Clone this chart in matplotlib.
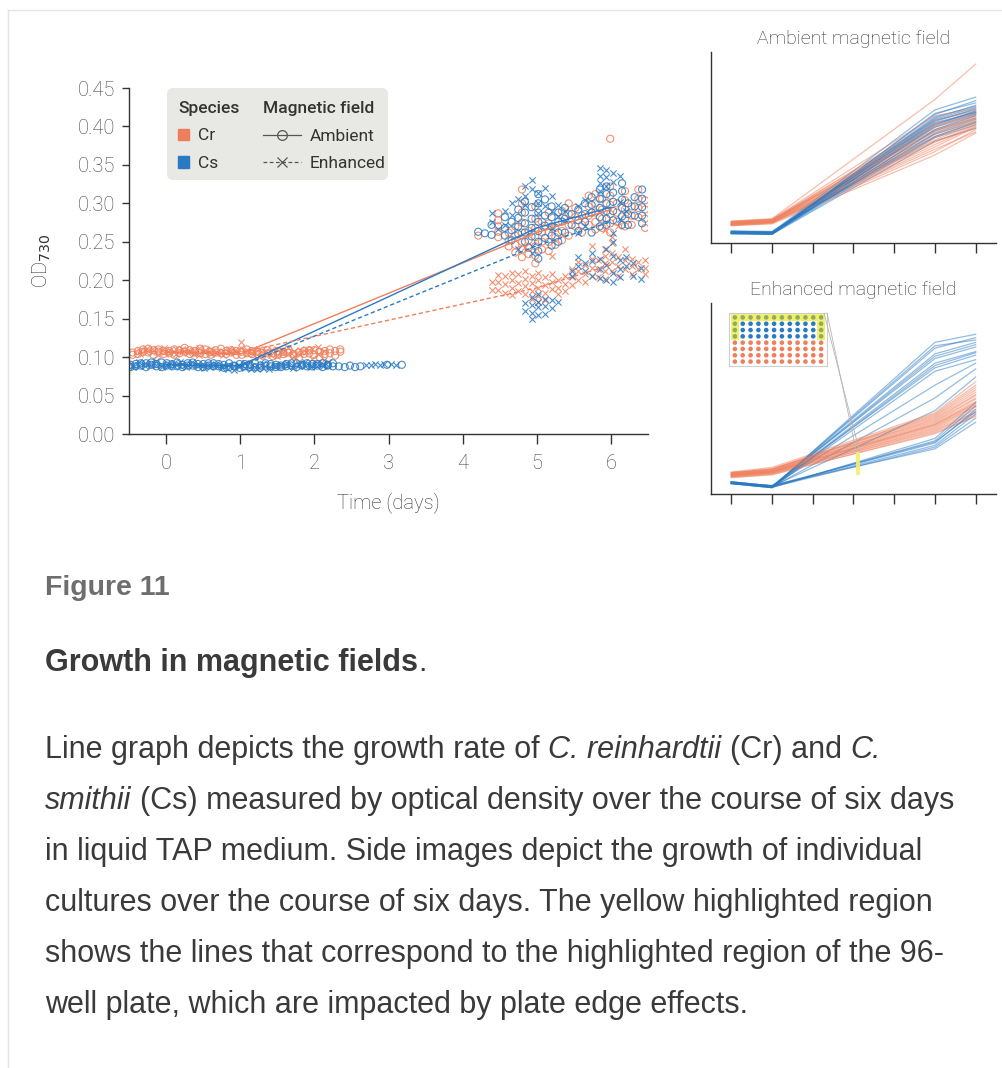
import matplotlib
matplotlib.use('Agg')
import numpy as np
import matplotlib.pyplot as plt
from matplotlib.patches import Patch, Rectangle, FancyBboxPatch, ConnectionPatch
from matplotlib.lines import Line2D

plt.rcParams['font.family'] = ['Roboto', 'DejaVu Sans']

ORANGE = '#EF7F5C'
BLUE = '#2A7AC3'
GREEN = '#8fae5c'
YELLOW = '#f3ef6e'
INK = '#333333'
TICK = '#444444'

# ---- main plot data ----
# early time series (days), two replicate readings per time
early_t_cr = [-0.45, -0.38, -0.31, -0.24, -0.17, -0.10, -0.03, 0.04, 0.11, 0.18, 0.25, 0.32, 0.39, 0.46,
              0.53, 0.60, 0.67, 0.74, 0.81, 0.88, 0.95, 1.02, 1.09, 1.16, 1.23, 1.30, 1.37, 1.44, 1.51,
              1.58, 1.65, 1.72, 1.79, 1.86, 1.93, 2.00, 2.07, 2.14, 2.21, 2.28, 2.35]
cr_amb_early_a = [0.103, 0.108, 0.110, 0.106, 0.109, 0.107, 0.104, 0.108, 0.110, 0.105, 0.107, 0.109, 0.106, 0.111,
                  0.104, 0.107, 0.109, 0.105, 0.108, 0.106, 0.103, 0.107, 0.105, 0.108, 0.104, 0.106, 0.109, 0.105,
                  0.103, 0.107, 0.110, 0.104, 0.106, 0.108, 0.105, 0.109, 0.107, 0.104, 0.110, 0.108, 0.110]
cr_amb_early_b = [0.106, 0.104, 0.107, 0.111, 0.103, 0.110, 0.108, 0.105, 0.103, 0.109, 0.112, 0.104, 0.108, 0.105,
                  0.110, 0.103, 0.106, 0.111, 0.104, 0.109, 0.108, 0.103, 0.110, 0.104, 0.107, 0.102, 0.105, 0.101,
                  0.108, 0.104, 0.106, 0.102, 0.099, 0.104, 0.109, 0.103, 0.100, 0.108, 0.105, 0.102, 0.107]

early_t_cr_enh = [-0.35, -0.27, -0.19, -0.11, -0.03, 0.05, 0.13, 0.21, 0.29, 0.37, 0.45, 0.53, 0.61, 0.69, 0.77,
                  0.85, 0.93, 1.01, 1.09, 1.17, 1.25, 1.33, 1.41, 1.49, 1.57, 1.65, 1.73, 1.81, 1.89, 1.97,
                  2.05, 2.13]
cr_enh_early_a = [0.108, 0.111, 0.106, 0.109, 0.112, 0.105, 0.110, 0.107, 0.109, 0.104, 0.112, 0.106, 0.110, 0.105,
                  0.108, 0.111, 0.106, 0.120, 0.109, 0.104, 0.111, 0.107, 0.103, 0.110, 0.105, 0.112, 0.108, 0.104,
                  0.110, 0.097, 0.113, 0.108]
cr_enh_early_b = [0.104, 0.107, 0.110, 0.103, 0.106, 0.109, 0.104, 0.111, 0.105, 0.108, 0.103, 0.109, 0.104, 0.107,
                  0.103, 0.106, 0.109, 0.112, 0.104, 0.108, 0.102, 0.106, 0.109, 0.102, 0.108, 0.104, 0.101, 0.109,
                  0.106, 0.110, 0.104, 0.096]

early_t_cs = [-0.48, -0.41, -0.34, -0.27, -0.20, -0.13, -0.06, 0.01, 0.08, 0.15, 0.22, 0.29, 0.36, 0.43, 0.50,
              0.57, 0.64, 0.71, 0.78, 0.85, 0.92, 0.99, 1.06, 1.13, 1.20, 1.27, 1.34, 1.41, 1.48, 1.55, 1.62,
              1.69, 1.76, 1.83, 1.90, 1.97, 2.04, 2.11, 2.18, 2.25]
cs_amb_early_a = [0.087, 0.091, 0.089, 0.092, 0.090, 0.088, 0.093, 0.089, 0.091, 0.088, 0.090, 0.092, 0.089, 0.087,
                  0.091, 0.089, 0.092, 0.088, 0.090, 0.087, 0.089, 0.091, 0.088, 0.090, 0.087, 0.089, 0.092, 0.088,
                  0.090, 0.087, 0.091, 0.089, 0.092, 0.090, 0.088, 0.091, 0.089, 0.092, 0.090, 0.088]
cs_amb_early_b = [0.090, 0.088, 0.092, 0.087, 0.093, 0.091, 0.087, 0.092, 0.088, 0.093, 0.087, 0.089, 0.093, 0.091,
                  0.087, 0.092, 0.088, 0.091, 0.086, 0.092, 0.088, 0.086, 0.091, 0.087, 0.092, 0.086, 0.089, 0.091,
                  0.087, 0.089, 0.088, 0.092, 0.087, 0.089, 0.092, 0.088, 0.091, 0.087, 0.089, 0.092]
cs_amb_tail_t = [2.33, 2.41, 2.48, 2.55, 2.62, 2.98, 3.18]
cs_amb_tail_y = [0.088, 0.087, 0.089, 0.087, 0.088, 0.090, 0.090]

early_t_cs_enh = [-0.45, -0.37, -0.29, -0.21, -0.13, -0.05, 0.03, 0.11, 0.19, 0.27, 0.35, 0.43, 0.51, 0.59, 0.67,
                  0.75, 0.83, 0.91, 0.99, 1.07, 1.15, 1.23, 1.31, 1.39, 1.47, 1.55, 1.63, 1.71, 1.79, 1.87,
                  1.95, 2.03, 2.11, 2.19]
cs_enh_early_a = [0.090, 0.093, 0.089, 0.092, 0.095, 0.090, 0.088, 0.092, 0.089, 0.091, 0.093, 0.088, 0.090, 0.087,
                  0.091, 0.089, 0.084, 0.088, 0.090, 0.086, 0.089, 0.085, 0.091, 0.087, 0.090, 0.088, 0.092, 0.089,
                  0.091, 0.088, 0.090, 0.092, 0.089, 0.093]
cs_enh_early_b = [0.087, 0.089, 0.092, 0.088, 0.090, 0.087, 0.091, 0.088, 0.093, 0.087, 0.089, 0.091, 0.086, 0.090,
                  0.088, 0.086, 0.090, 0.083, 0.087, 0.092, 0.084, 0.088, 0.086, 0.084, 0.087, 0.091, 0.088, 0.086,
                  0.090, 0.093, 0.087, 0.089, 0.091, 0.088]
cs_enh_tail_t = [2.70, 2.76, 2.82, 2.88, 2.94, 3.04, 3.10]
cs_enh_tail_y = [0.090, 0.090, 0.091, 0.090, 0.091, 0.091, 0.090]

# late readings, grouped as (time, [OD values])
late_cs_amb = [(4.21, [0.263]), (4.30, [0.261]), (4.39, [0.272, 0.259]), (4.57, [0.282, 0.268, 0.258]),
               (4.66, [0.276, 0.265, 0.252]), (4.75, [0.292, 0.281, 0.270, 0.260]),
               (4.84, [0.302, 0.288, 0.274, 0.262, 0.250]), (4.93, [0.295, 0.280, 0.268, 0.257]),
               (5.02, [0.312, 0.300, 0.288, 0.276, 0.264, 0.250, 0.238, 0.228]), (5.11, [0.305, 0.284, 0.271, 0.255]),
               (5.20, [0.296, 0.282, 0.270, 0.258, 0.245]), (5.29, [0.288, 0.276, 0.262, 0.250]),
               (5.38, [0.294, 0.280, 0.262]), (5.47, [0.286, 0.272]), (5.56, [0.292, 0.278, 0.264]),
               (5.65, [0.300, 0.286, 0.276]), (5.74, [0.308, 0.298, 0.288, 0.262]),
               (5.85, [0.318, 0.306, 0.294, 0.282, 0.270]), (5.94, [0.322, 0.312, 0.300, 0.290, 0.280, 0.272]),
               (6.03, [0.314, 0.302, 0.290, 0.278]), (6.15, [0.326, 0.316, 0.305, 0.294, 0.283, 0.272]),
               (6.23, [0.300, 0.286, 0.272]), (6.32, [0.308, 0.296, 0.284]),
               (6.42, [0.318, 0.306, 0.295, 0.284, 0.274])]
late_cr_amb = [(4.21, [0.258]), (4.48, [0.287, 0.278, 0.270, 0.263, 0.256]), (4.62, [0.262, 0.252, 0.244]),
               (4.71, [0.270, 0.258, 0.246, 0.236]), (4.80, [0.318, 0.300, 0.288, 0.275, 0.262, 0.250, 0.240, 0.230]),
               (4.89, [0.264, 0.252, 0.242, 0.234]), (4.98, [0.296, 0.280, 0.268, 0.256, 0.244, 0.232, 0.222]),
               (5.07, [0.276, 0.262, 0.250, 0.240]), (5.16, [0.288, 0.274, 0.262, 0.250, 0.238]),
               (5.25, [0.268, 0.256, 0.246]), (5.34, [0.290, 0.276, 0.264, 0.252]),
               (5.43, [0.300, 0.286, 0.272, 0.258]), (5.52, [0.294, 0.282, 0.270]), (5.61, [0.284, 0.272, 0.262]),
               (5.70, [0.310, 0.296, 0.284, 0.272]), (5.79, [0.312, 0.300, 0.288, 0.276, 0.266]),
               (5.88, [0.306, 0.292, 0.280, 0.268]), (5.99, [0.384, 0.322, 0.310, 0.298, 0.286, 0.274, 0.262]),
               (6.08, [0.300, 0.288, 0.276]), (6.19, [0.316, 0.304, 0.292, 0.280, 0.270]),
               (6.28, [0.296, 0.284, 0.272]), (6.37, [0.318, 0.306, 0.294, 0.282]),
               (6.46, [0.304, 0.292, 0.280, 0.268])]
late_cs_enh = [(4.39, [0.287, 0.276]), (4.48, [0.266]), (4.57, [0.290, 0.272]), (4.66, [0.300, 0.285]),
               (4.75, [0.305, 0.240]), (4.84, [0.322, 0.310, 0.298, 0.170, 0.160]),
               (4.93, [0.330, 0.318, 0.245, 0.236, 0.178, 0.168, 0.158, 0.150]),
               (5.02, [0.314, 0.300, 0.288, 0.182, 0.172, 0.165, 0.155]), (5.11, [0.320, 0.296, 0.176, 0.166, 0.156]),
               (5.20, [0.310, 0.290, 0.268, 0.174, 0.164]), (5.29, [0.298, 0.284, 0.172]), (5.38, [0.290, 0.278]),
               (5.47, [0.212, 0.205]), (5.56, [0.296, 0.262, 0.230, 0.218]), (5.65, [0.304, 0.270, 0.222, 0.212]),
               (5.74, [0.236, 0.225, 0.205]), (5.85, [0.346, 0.336, 0.326, 0.316, 0.228, 0.214, 0.203]),
               (5.94, [0.344, 0.334, 0.322, 0.240, 0.220, 0.200]), (6.03, [0.340, 0.328, 0.262, 0.250, 0.232, 0.210, 0.198]),
               (6.12, [0.336, 0.302, 0.280, 0.226, 0.214, 0.204]), (6.21, [0.290, 0.230, 0.218]),
               (6.30, [0.222, 0.206]), (6.40, [0.216, 0.202])]
late_cr_enh = [(4.39, [0.198, 0.187]), (4.48, [0.207, 0.198, 0.187]), (4.57, [0.205, 0.195, 0.184]),
               (4.66, [0.210, 0.200, 0.190, 0.181]), (4.75, [0.208, 0.197, 0.186]),
               (4.84, [0.243, 0.212, 0.202, 0.192, 0.182]), (4.93, [0.206, 0.196, 0.186, 0.176]),
               (5.02, [0.210, 0.200, 0.190, 0.180, 0.172]), (5.11, [0.204, 0.194, 0.184, 0.174]),
               (5.20, [0.232, 0.208, 0.198, 0.188]), (5.29, [0.200, 0.190, 0.182]), (5.38, [0.205, 0.195, 0.186]),
               (5.47, [0.215, 0.204, 0.194]), (5.56, [0.224, 0.212, 0.200]), (5.65, [0.220, 0.208, 0.198]),
               (5.74, [0.245, 0.228, 0.216, 0.206]), (5.83, [0.226, 0.214, 0.204]),
               (5.92, [0.265, 0.240, 0.232, 0.222, 0.212, 0.202]), (6.01, [0.256, 0.248, 0.236, 0.224, 0.212]),
               (6.10, [0.270, 0.230, 0.218, 0.206]), (6.19, [0.240, 0.226, 0.214]), (6.28, [0.228, 0.218, 0.208]),
               (6.37, [0.224, 0.214]), (6.46, [0.226, 0.216, 0.208])]

# mean growth curves
mean_days = [0, 1, 5, 6]
cr_amb_mean = [0.106, 0.104, 0.262, 0.292]
cs_amb_mean = [0.090, 0.089, 0.268, 0.295]
cr_enh_mean = [0.107, 0.106, 0.190, 0.220]
cs_enh_mean = [0.090, 0.088, 0.245, 0.276]

# ---- side panels: one line per culture (days 0, 1, 5, 6) ----
panel_days = [0, 1, 5, 6]
amb_cr = [[0.104, 0.105, 0.106, 0.107, 0.108, 0.109, 0.110, 0.111, 0.105, 0.107, 0.109, 0.106, 0.108, 0.110, 0.104, 0.112, 0.106, 0.109, 0.107, 0.111],
          [0.108, 0.109, 0.110, 0.111, 0.112, 0.113, 0.114, 0.115, 0.109, 0.111, 0.113, 0.110, 0.112, 0.114, 0.107, 0.116, 0.110, 0.113, 0.111, 0.115],
          [0.232, 0.240, 0.248, 0.256, 0.262, 0.268, 0.274, 0.280, 0.244, 0.252, 0.286, 0.236, 0.258, 0.270, 0.226, 0.322, 0.250, 0.266, 0.278, 0.294],
          [0.270, 0.274, 0.278, 0.282, 0.286, 0.290, 0.294, 0.298, 0.276, 0.280, 0.302, 0.266, 0.284, 0.292, 0.264, 0.383, 0.273, 0.288, 0.296, 0.306]]
amb_cs = [[0.090, 0.091, 0.092, 0.093, 0.094, 0.091, 0.092, 0.093, 0.090, 0.094, 0.092, 0.091, 0.093, 0.092, 0.095, 0.090, 0.091, 0.093, 0.092, 0.094],
          [0.089, 0.090, 0.091, 0.092, 0.093, 0.090, 0.091, 0.092, 0.089, 0.093, 0.091, 0.090, 0.092, 0.091, 0.094, 0.089, 0.090, 0.092, 0.091, 0.093],
          [0.250, 0.256, 0.262, 0.268, 0.274, 0.280, 0.286, 0.292, 0.298, 0.304, 0.264, 0.276, 0.284, 0.290, 0.258, 0.270, 0.278, 0.288, 0.296, 0.282],
          [0.272, 0.278, 0.284, 0.290, 0.296, 0.300, 0.304, 0.310, 0.316, 0.326, 0.288, 0.298, 0.306, 0.312, 0.282, 0.294, 0.302, 0.308, 0.320, 0.300]]
enh_cr = [[0.102, 0.104, 0.105, 0.106, 0.107, 0.108, 0.109, 0.110, 0.111, 0.112, 0.104, 0.106, 0.108, 0.110, 0.103, 0.107, 0.105, 0.109, 0.111, 0.106],
          [0.108, 0.110, 0.111, 0.112, 0.113, 0.114, 0.116, 0.117, 0.118, 0.120, 0.109, 0.112, 0.115, 0.117, 0.107, 0.113, 0.110, 0.114, 0.116, 0.112],
          [0.178, 0.182, 0.186, 0.190, 0.194, 0.198, 0.202, 0.206, 0.210, 0.214, 0.184, 0.192, 0.200, 0.208, 0.180, 0.196, 0.188, 0.204, 0.212, 0.194],
          [0.208, 0.214, 0.220, 0.226, 0.232, 0.238, 0.244, 0.250, 0.258, 0.268, 0.216, 0.228, 0.240, 0.254, 0.210, 0.234, 0.224, 0.246, 0.262, 0.230]]
enh_cs = [[0.092, 0.093, 0.094, 0.095, 0.093, 0.094, 0.092, 0.095, 0.093, 0.094, 0.092, 0.093, 0.095, 0.094, 0.093, 0.092, 0.094, 0.093, 0.092, 0.095],
          [0.085, 0.086, 0.087, 0.088, 0.086, 0.087, 0.085, 0.088, 0.086, 0.087, 0.085, 0.086, 0.088, 0.087, 0.086, 0.089, 0.086, 0.087, 0.085, 0.088],
          [0.336, 0.326, 0.316, 0.308, 0.300, 0.292, 0.286, 0.262, 0.240, 0.218, 0.170, 0.166, 0.162, 0.158, 0.155, 0.152, 0.330, 0.312, 0.296, 0.164],
          [0.350, 0.344, 0.336, 0.328, 0.320, 0.314, 0.306, 0.300, 0.290, 0.276, 0.232, 0.226, 0.220, 0.212, 0.205, 0.198, 0.340, 0.332, 0.318, 0.216]]

# edge-effect highlight (day, OD range) and the 96-well plate layout
edge_day = [3.07, 3.15]
edge_od = [0.106, 0.147]
plate_map = ["GGGGGGGGGGGG", "GBBBBBBBBBBG", "GBBBBBBBBBBG", "GBBBBBBBBBBG",
             "OOOOOOOOOOOO", "OOOOOOOOOOOO", "OOOOOOOOOOOO", "OOOOOOOOOOOO"]
well_colors = {'G': GREEN, 'B': BLUE, 'O': ORANGE}

x_ticks = [0, 1, 2, 3, 4, 5, 6]
y_ticks = [0.00, 0.05, 0.10, 0.15, 0.20, 0.25, 0.30, 0.35, 0.40, 0.45]

W, H = 1003, 1068
fig = plt.figure(figsize=(W / 100, H / 100), dpi=100)


def box(l, t, r, b):
    return [l / W, 1 - b / H, (r - l) / W, (b - t) / H]


def flat(cols):
    xs = [x for x, ys in cols for _ in ys]
    ys = [y for _, ys in cols for y in ys]
    return xs, ys


# page borders
fig.add_artist(Line2D([8 / W, 8 / W], [0, 1 - 10 / H], color='#e4e4e4', lw=1))
fig.add_artist(Line2D([8 / W, 1], [1 - 10 / H, 1 - 10 / H], color='#e4e4e4', lw=1))

# ---------------- main axes ----------------
ax = fig.add_axes(box(129, 88, 648, 434))
circ = dict(marker='o', facecolors='none', s=26, linewidths=0.8, alpha=0.85)
cross = dict(marker='x', s=20, linewidths=0.8, alpha=0.85)

ax.scatter(early_t_cr + early_t_cr, cr_amb_early_a + cr_amb_early_b, edgecolors=ORANGE, **circ)
ax.scatter(early_t_cr_enh + early_t_cr_enh, cr_enh_early_a + cr_enh_early_b, c=ORANGE, **cross)
ax.scatter(early_t_cs + early_t_cs + cs_amb_tail_t, cs_amb_early_a + cs_amb_early_b + cs_amb_tail_y,
           edgecolors=BLUE, **circ)
ax.scatter(early_t_cs_enh + early_t_cs_enh + cs_enh_tail_t, cs_enh_early_a + cs_enh_early_b + cs_enh_tail_y,
           c=BLUE, **cross)

x, y = flat(late_cr_amb)
ax.scatter(x, y, edgecolors=ORANGE, **circ)
x, y = flat(late_cs_amb)
ax.scatter(x, y, edgecolors=BLUE, **circ)
x, y = flat(late_cr_enh)
ax.scatter(x, y, c=ORANGE, **cross)
x, y = flat(late_cs_enh)
ax.scatter(x, y, c=BLUE, **cross)

ax.plot(mean_days, cr_amb_mean, color=ORANGE, lw=1.0)
ax.plot(mean_days, cs_amb_mean, color=BLUE, lw=1.0)
ax.plot(mean_days, cr_enh_mean, color=ORANGE, lw=1.0, ls=(0, (3, 2)))
ax.plot(mean_days, cs_enh_mean, color=BLUE, lw=1.0, ls=(0, (3, 2)))

ax.set_xlim(-0.5, 6.5)
ax.set_ylim(0, 0.45)
ax.set_xticks(x_ticks)
ax.set_yticks(y_ticks)
ax.set_yticklabels([f'{v:.2f}' for v in y_ticks])
for s in ['top', 'right']:
    ax.spines[s].set_visible(False)
for s in ['left', 'bottom']:
    ax.spines[s].set_color(INK)
    ax.spines[s].set_linewidth(1)
ax.tick_params(width=1, color=INK, labelcolor=TICK, labelsize=14.5)
ax.tick_params(axis='x', length=7.5, pad=7)
ax.tick_params(axis='y', length=5, pad=5)
for lab in ax.get_xticklabels() + ax.get_yticklabels():
    lab.set_fontweight('light')
ax.set_xlabel('Time (days)', fontsize=14.5, color=INK, labelpad=14, fontweight='light')
ax.set_ylabel('OD$_{730}$', fontsize=14.5, color=INK, labelpad=18, fontweight='light')

# legend
ax.add_artist(FancyBboxPatch((167 / W, 1 - 180 / H), 221 / W, 92 / H,
                             boxstyle='round,pad=0,rounding_size=0.006', transform=fig.transFigure,
                             facecolor='#e8e8e4', edgecolor='none', zorder=4, clip_on=False))
leg_kw = dict(frameon=False, alignment='left', fontsize=12.5, title_fontsize=12.5, borderpad=0,
              borderaxespad=0, labelspacing=0.72, handletextpad=0.5, loc='upper left',
              bbox_transform=fig.transFigure, labelcolor=INK)
leg1 = ax.legend(handles=[Patch(color=ORANGE), Patch(color=BLUE)], labels=['Cr', 'Cs'],
                 title='Species', bbox_to_anchor=(178 / W, 1 - 101 / H),
                 handlelength=0.65, handleheight=0.65, **leg_kw)
leg1.get_title().set_fontweight('medium')
leg1.get_title().set_color(INK)
leg1.set_zorder(6)
ax.add_artist(leg1)
leg2 = ax.legend(handles=[Line2D([], [], color='#555555', marker='o', mfc='none', lw=0.9, ms=7, mew=0.9),
                          Line2D([], [], color='#555555', marker='x', ls=(0, (3, 2)), lw=0.9, ms=7, mew=0.9)],
                 labels=['Ambient', 'Enhanced'], title='Magnetic field',
                 bbox_to_anchor=(263 / W, 1 - 101 / H), handlelength=2.2, **leg_kw)
leg2.get_title().set_fontweight('medium')
leg2.get_title().set_color(INK)
leg2.set_zorder(6)


# ---------------- side panels ----------------
def side_panel(rect, title, cr, cs):
    a = fig.add_axes(rect)
    for i in range(len(cr[0])):
        a.plot(panel_days, [cs[d][i] for d in range(4)], color=BLUE, lw=0.9, alpha=0.5)
        a.plot(panel_days, [cr[d][i] for d in range(4)], color=ORANGE, lw=0.9, alpha=0.5)
    a.set_xlim(-0.5, 6.5)
    a.set_ylim(0.074, 0.404)
    a.set_xticks(x_ticks)
    a.set_xticklabels([])
    a.set_yticks([])
    for s in ['top', 'right']:
        a.spines[s].set_visible(False)
    for s in ['left', 'bottom']:
        a.spines[s].set_color(INK)
        a.spines[s].set_linewidth(1)
    a.tick_params(axis='x', length=7, width=1, color=INK)
    a.set_title(title, fontsize=14, color=INK, pad=6, fontweight='light')
    return a


side_panel(box(711, 52, 996, 243), 'Ambient magnetic field', amb_cr, amb_cs)
ax_enh = side_panel(box(711, 303, 996, 494), 'Enhanced magnetic field', enh_cr, enh_cs)
ax_enh.add_patch(Rectangle((edge_day[0], edge_od[0]), edge_day[1] - edge_day[0], edge_od[1] - edge_od[0],
                           facecolor=YELLOW, edgecolor='none', alpha=0.9, zorder=5))

# 96-well plate inset
ax_in = fig.add_axes(box(729, 313, 827, 366))
ax_in.add_patch(Rectangle((-0.5, -0.5), 12, 1, facecolor=YELLOW, edgecolor='none'))
ax_in.add_patch(Rectangle((-0.5, -0.5), 1, 4, facecolor=YELLOW, edgecolor='none'))
ax_in.add_patch(Rectangle((10.5, -0.5), 1, 4, facecolor=YELLOW, edgecolor='none'))
for r, row in enumerate(plate_map):
    ax_in.scatter(range(len(row)), [r] * len(row), c=[well_colors[k] for k in row], s=11, linewidths=0, zorder=3)
ax_in.set_xlim(-0.75, 11.75)
ax_in.set_ylim(7.7, -0.7)
ax_in.set_xticks([])
ax_in.set_yticks([])
for s in ax_in.spines.values():
    s.set_color('#cfcfcf')
    s.set_linewidth(0.8)

for xa, xb in [((1.0, 1.0), (edge_day[0], edge_od[1])), ((0.97, 1.0), (edge_day[1], edge_od[1]))]:
    fig.add_artist(ConnectionPatch(xyA=xa, coordsA=ax_in.transAxes, xyB=xb, coordsB=ax_enh.transData,
                                   color='#b5b5b5', lw=0.6))

# ---------------- caption ----------------
CAP = ['Liberation Sans', 'DejaVu Sans']
renderer = fig.canvas.get_renderer()


def width_of(txt, **kw):
    t = fig.text(0, 0, txt, **kw)
    w = t.get_window_extent(renderer).width
    t.remove()
    return w


def rich_line(x_px, base_px, pieces, size, color, gap=True):
    x = x_px
    sp = width_of('a a', fontsize=size, family=CAP) - width_of('aa', fontsize=size, family=CAP)
    for k, (txt, style, weight) in enumerate(pieces):
        if k > 0 and gap:
            x += sp
        t = fig.text(x / W, 1 - base_px / H, txt, fontsize=size, fontstyle=style, fontweight=weight,
                     color=color, va='baseline', ha='left', family=CAP)
        x += t.get_window_extent(renderer).width


rich_line(45, 595, [('Figure 11', 'normal', 'bold')], 20.5, '#6e6e6e')
rich_line(45, 671, [('Growth in magnetic fields', 'normal', 'bold'), ('.', 'normal', 'normal')], 22,
          '#3a3a3a', gap=False)

body = [
    [('Line graph depicts the growth rate of', 'normal'), ('C. reinhardtii', 'italic'), ('(Cr) and', 'normal'),
     ('C.', 'italic')],
    [('smithii', 'italic'), ('(Cs) measured by optical density over the course of six days', 'normal')],
    [('in liquid TAP medium. Side images depict the growth of individual', 'normal')],
    [('cultures over the course of six days. The yellow highlighted region', 'normal')],
    [('shows the lines that correspond to the highlighted region of the 96-', 'normal')],
    [('well plate, which are impacted by plate edge effects.', 'normal')],
]
for i, line in enumerate(body):
    rich_line(45, 758 + i * 51, [(t, s, 'normal') for t, s in line], 22, '#3a3a3a')

fig.savefig('out.png', dpi=100)
